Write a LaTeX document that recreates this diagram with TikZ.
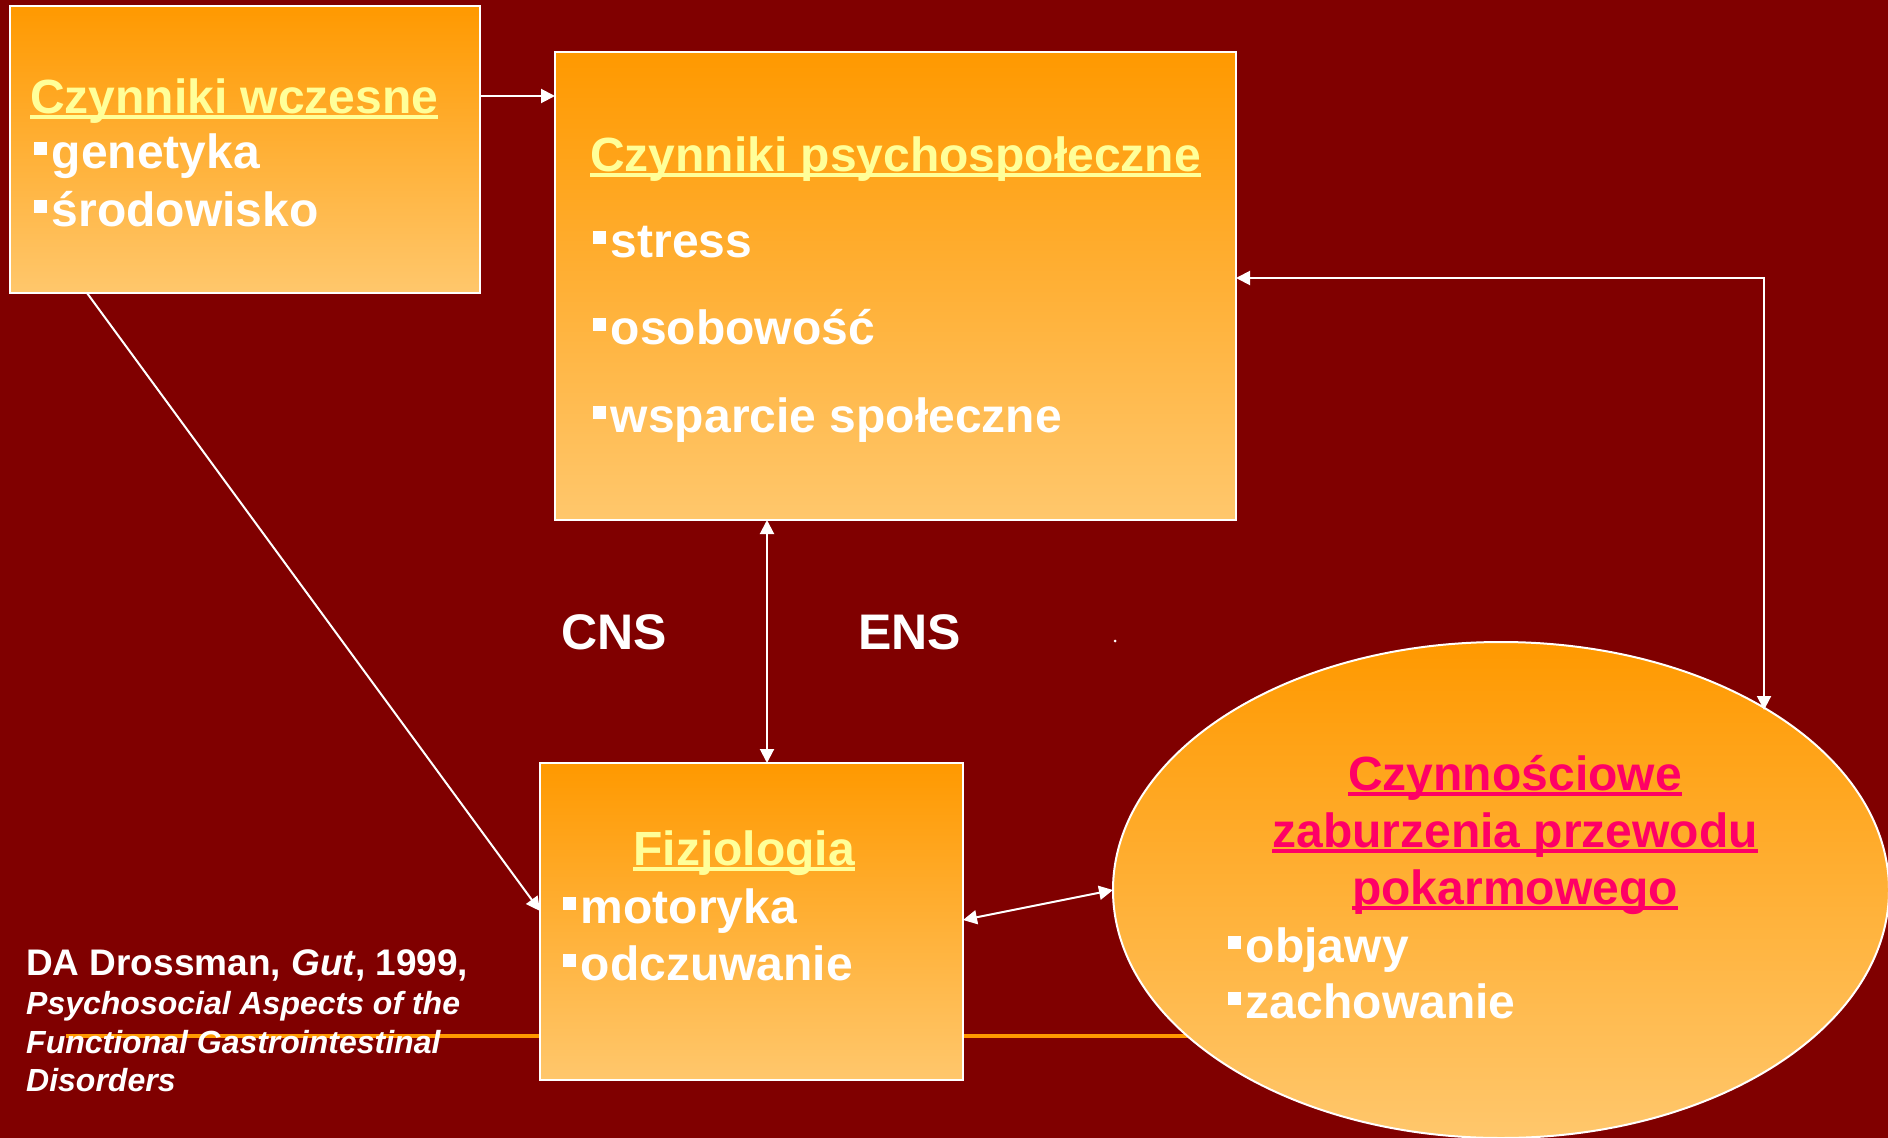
\documentclass[tikz,border=0pt]{standalone}
\usepackage{fontspec}
\setmainfont{Liberation Sans}
\usetikzlibrary{shapes.geometric,arrows.meta}
\definecolor{bgred}{RGB}{128,0,0}
\definecolor{otop}{RGB}{255,153,0}
\definecolor{obot}{RGB}{255,199,108}
\definecolor{ttl}{RGB}{255,255,153}
\definecolor{pinkt}{RGB}{255,0,102}
\newcommand\bul{\rule[0.27em]{0.27em}{0.27em}\hspace{0.1em}}
\newcommand\ulin[1]{\setbox0\hbox{#1}\rlap{\rule[-0.12em]{\wd0}{0.07em}}\box0}
\begin{document}
\begin{tikzpicture}[x=1pt,y=-1pt,
  box/.style={draw=white, line width=2pt, top color=otop, bottom color=obot, inner sep=0pt, outer sep=0pt, anchor=north west},
  lbl/.style={inner sep=0pt, anchor=base west, text=white, font=\fontsize{48}{57}\selectfont\bfseries},
  ttlstyle/.style={lbl, text=ttl},
  pinkstyle/.style={lbl, text=pinkt, anchor=base},
  big/.style={inner sep=0pt, anchor=base west, text=white, font=\fontsize{50}{60}\selectfont\bfseries},
  cite/.style={inner sep=0pt, anchor=base west, text=white, font=\fontsize{32}{38}\selectfont\bfseries\itshape},
  conn/.style={white, line width=2pt, -{Triangle[length=14pt,width=14pt]}},
  dconn/.style={white, line width=2pt, {Triangle[length=14pt,width=14pt]}-{Triangle[length=14pt,width=14pt]}}
]
\fill[bgred] (0,0) rectangle (1888,1138);
\useasboundingbox (0,0) rectangle (1888,1138);

% decorative orange line
\draw[otop, line width=4pt] (66,1036) -- (1300,1036);

% boxes
\node[box, minimum width=470pt, minimum height=287pt] (b1) at (10,6) {};
\node[box, minimum width=681pt, minimum height=468pt] (b2) at (555,52) {};
\node[box, minimum width=423pt, minimum height=317pt] (b3) at (540,763) {};
\node[ellipse, draw=white, line width=2pt, top color=otop, bottom color=obot, inner sep=0pt, outer sep=0pt, minimum width=776pt, minimum height=496pt] (e) at (1501,890) {};

\fill[white] (1115,641) circle (1.5pt);

% connectors
\draw[conn] (b1.east |- 0,96) -- (b2.west |- 0,96);
\draw[conn] (b1.south -| 87,0) -- (b3.west |- 0,911);
\draw[dconn] (b2.south -| 767,0) -- (b3.north -| 767,0);
\draw[dconn] (b3.east |- 0,920) -- (e.west);
\draw[dconn] (b2.east |- 0,278) -| (e.34.7 -| 1764,0);

% box 1 text
\node[ttlstyle] (t1) at (30,113) {\ulin{Czynniki wczesne}};
\node[lbl] (t1a) at (34,168) {\bul genetyka};
\node[lbl] (t1b) at (34,226) {\bul środowisko};

% box 2 text
\node[ttlstyle] (t2) at (590,171) {\ulin{Czynniki psychospołeczne}};
\node[lbl] (t2a) at (593,257) {\bul stress};
\node[lbl] (t2b) at (593,344) {\bul osobowość};
\node[lbl] (t2c) at (593,432) {\bul wsparcie społeczne};

% box 3 text
\node[ttlstyle, anchor=base] (t3) at (744,865) {\ulin{Fizjologia}};
\node[lbl] (t3a) at (563,923) {\bul motoryka};
\node[lbl] (t3b) at (563,980) {\bul odczuwanie};

% ellipse text
\node[pinkstyle] (t4) at (1515,790) {\ulin{Czynnościowe}};
\node[pinkstyle] (t4b) at (1515,847) {\ulin{zaburzenia przewodu}};
\node[pinkstyle] (t4c) at (1515,904) {\ulin{pokarmowego}};
\node[lbl] (t4d) at (1228,962) {\bul objawy};
\node[lbl] (t4e) at (1228,1018) {\bul zachowanie};

% CNS / ENS
\node[big] (cns) at (561,649) {CNS};
\node[big] (ens) at (858,649) {ENS};

% citation
\node[inner sep=0pt, anchor=base west, text=white, font=\fontsize{37}{44}\selectfont\bfseries] (c1) at (26,975) {DA Drossman, \textit{Gut}, 1999,};
\node[cite] (c2) at (26,1014) {Psychosocial Aspects of the};
\node[cite] (c3) at (26,1053) {Functional Gastrointestinal};
\node[cite] (c4) at (26,1091) {Disorders};
\end{tikzpicture}
\end{document}
